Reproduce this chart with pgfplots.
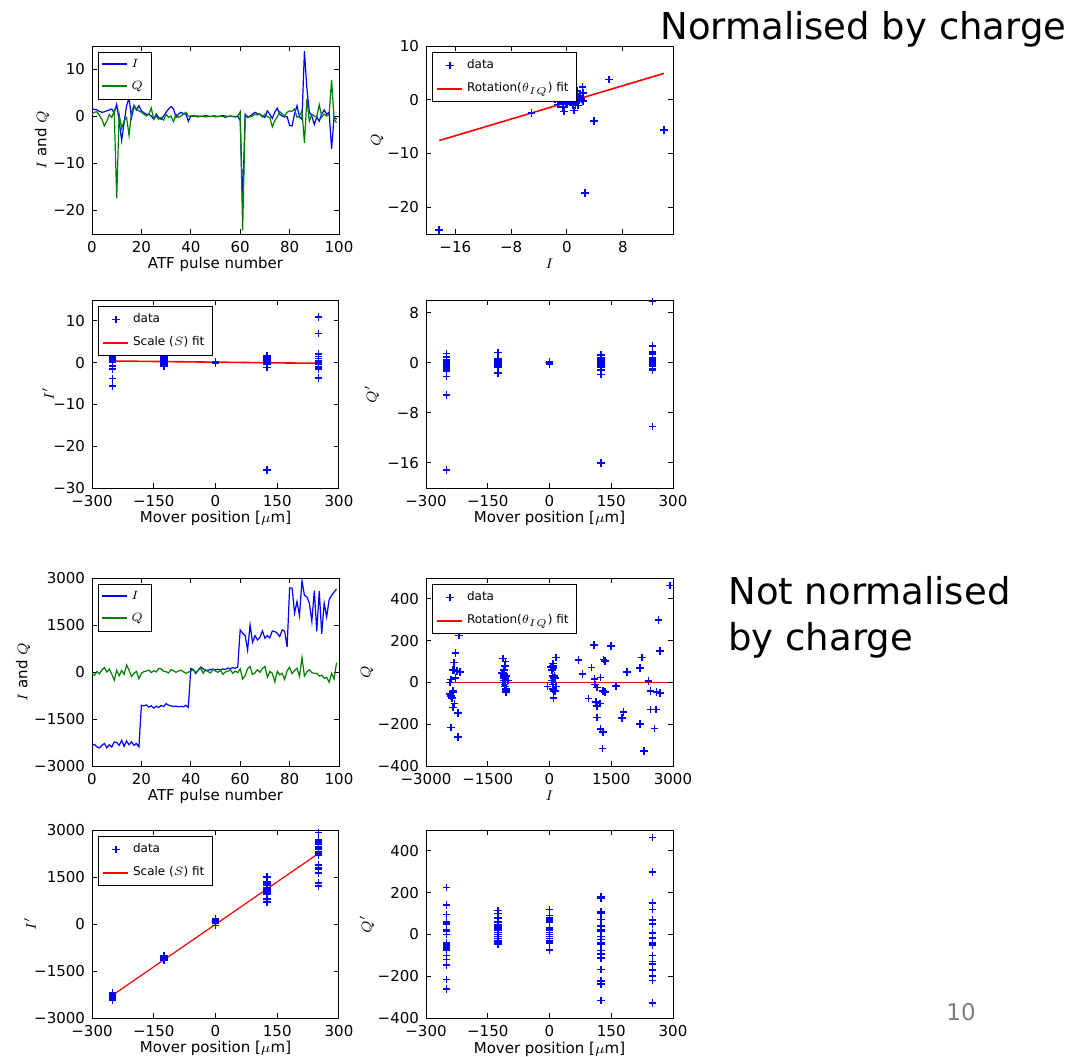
\documentclass[border=0pt]{standalone}
\usepackage{fontspec}
\setmainfont{DejaVu Sans}
\usepackage{pgfplots}
\pgfplotsset{compat=1.18}
\usepackage{pgfplotstable}

\definecolor{mplblue}{rgb}{0,0,1}
\definecolor{mplgreen}{rgb}{0,0.5,0}
\definecolor{mplred}{rgb}{1,0,0}

\newcommand{\legrule}[3]{\textcolor{#1}{\rule[#3]{12.5pt}{#2}}}

\pgfplotstableread{
n m I Q Ip Qp
0 -250 1.7 0.6 1.80 -0.05
1 -250 1.5 0.9 1.72 0.30
2 -250 1.4 1.0 1.66 0.43
3 -250 1.1 0.2 1.10 -0.20
4 -250 0.9 -0.6 0.63 -0.88
5 -250 1.0 -2.0 0.21 -2.22
6 -250 1.2 -1.0 0.76 -1.36
7 -250 1.4 0.4 1.44 -0.13
8 -250 1.6 -0.2 1.42 -0.76
9 -250 0.8 1.2 1.18 0.83
10 -250 2.6 -17.4 -3.81 -17.15
11 -250 -1.0 0.5 -0.75 0.83
12 -250 -5.1 -2.5 -5.65 -0.50
13 -250 -1.3 -0.9 -1.53 -0.37
14 -250 2.3 -0.2 2.07 -1.01
15 -250 3.9 -4.0 2.20 -5.13
16 -250 -0.2 0.9 0.13 0.91
17 -250 2.2 2.4 2.91 1.45
18 -250 1.4 1.6 1.87 0.99
19 -250 2.3 1.2 2.57 0.30
20 -125 1.2 0.9 1.44 0.41
21 -125 0.8 0.5 0.93 0.18
22 -125 0.5 0.1 0.51 -0.09
23 -125 0.5 0.5 0.65 0.29
24 -125 0.1 1.8 0.73 1.64
25 -125 -0.6 -0.6 -0.77 -0.35
26 -125 0.5 0.1 0.51 -0.09
27 -125 -0.2 -0.6 -0.40 -0.49
28 -125 -0.6 -0.2 -0.63 0.02
29 -125 0.1 -0.8 -0.20 -0.79
30 -125 0.9 0.5 1.02 0.15
31 -125 1.6 -0.2 1.42 -0.76
32 -125 2.1 0.1 2.00 -0.66
33 -125 1.6 -1.1 1.10 -1.60
34 -125 -0.2 0.5 -0.01 0.54
35 -125 0.5 -0.2 0.40 -0.37
36 -125 0.9 0.1 0.88 -0.23
37 -125 0.6 0.5 0.74 0.26
38 -125 0.5 0.9 0.79 0.66
39 -125 -1.0 0.1 -0.89 0.45
40 0 0.1 0.0 0.09 -0.04
41 0 0.2 0.1 0.22 0.02
42 0 0.1 0.0 0.09 -0.04
43 0 0.1 -0.1 0.06 -0.13
44 0 0.0 0.1 0.04 0.09
45 0 0.1 0.0 0.09 -0.04
46 0 0.2 -0.1 0.15 -0.16
47 0 0.1 0.0 0.09 -0.04
48 0 0.0 0.0 0.00 0.00
49 0 0.1 0.1 0.13 0.06
50 0 0.1 -0.1 0.06 -0.13
51 0 0.0 0.0 0.00 0.00
52 0 0.1 0.1 0.13 0.06
53 0 0.2 0.0 0.19 -0.07
54 0 0.1 -0.2 0.02 -0.22
55 0 0.0 0.0 0.00 0.00
56 0 0.1 0.1 0.13 0.06
57 0 0.0 0.0 0.00 0.00
58 0 -0.1 0.0 -0.09 0.04
59 0 0.1 0.1 0.13 0.06
60 125 -0.9 1.0 -0.48 1.25
61 125 -18.3 -24.2 -25.72 -16.00
62 125 0.5 -0.2 0.40 -0.37
63 125 -0.2 0.1 -0.15 0.16
64 125 0.1 -0.1 0.05 -0.13
65 125 0.5 0.1 0.51 -0.09
66 125 0.9 0.5 1.02 0.15
67 125 0.6 0.3 0.67 0.07
68 125 0.5 0.5 0.65 0.29
69 125 0.1 -0.1 0.05 -0.13
70 125 -0.2 0.5 -0.01 0.54
71 125 1.2 0.0 1.12 -0.43
72 125 0.5 -0.2 0.40 -0.37
73 125 -0.4 -2.2 -1.16 -1.91
74 125 0.9 -0.9 0.52 -1.16
75 125 1.8 -0.1 1.64 -0.73
76 125 0.5 1.0 0.83 0.75
77 125 0.1 0.6 0.30 0.52
78 125 -0.1 0.1 -0.05 0.13
79 125 0.0 0.9 0.32 0.84
80 250 -1.9 1.2 -1.34 1.80
81 250 -2.0 1.1 -1.47 1.75
82 250 0.5 1.6 1.04 1.31
83 250 2.3 -0.2 2.07 -1.01
84 250 -0.1 0.1 -0.05 0.13
85 250 -0.6 1.2 -0.13 1.33
86 250 13.9 -5.6 10.95 -10.20
87 250 6.0 3.8 6.95 1.39
88 250 0.9 -1.0 0.48 -1.25
89 250 0.1 0.5 0.27 0.43
90 250 -1.7 0.1 -1.54 0.70
91 250 -0.1 -0.1 -0.13 -0.05
92 250 -1.0 2.5 -0.03 2.69
93 250 0.5 -0.1 0.43 -0.27
94 250 1.4 0.5 1.48 -0.03
95 250 0.5 0.1 0.51 -0.09
96 250 0.9 0.5 1.02 0.15
97 250 -6.9 7.8 -3.64 9.74
98 250 -0.1 -0.6 -0.30 -0.52
99 250 -0.6 -1.3 -1.03 -1.00
}\tabA

\pgfplotstableread{
n m I Q
0 -250 -2340 -40
1 -250 -2310 -100
2 -250 -2390 15
3 -250 -2420 -55
4 -250 -2340 60
5 -250 -2280 140
6 -250 -2420 0
7 -250 -2320 95
8 -250 -2390 -65
9 -250 -2230 -260
10 -250 -2250 55
11 -250 -2340 -120
12 -250 -2180 50
13 -250 -2370 -75
14 -250 -2200 225
15 -250 -2320 60
16 -250 -2230 -145
17 -250 -2340 -45
18 -250 -2280 20
19 -250 -2390 -215
20 -125 -1060 -40
21 -125 -1080 10
22 -125 -1050 30
23 -125 -1120 60
24 -125 -1080 -20
25 -125 -1150 45
26 -125 -1090 0
27 -125 -1130 115
28 -125 -1070 100
29 -125 -1100 20
30 -125 -1010 10
31 -125 -1060 -30
32 -125 -1080 80
33 -125 -1100 40
34 -125 -1090 -10
35 -125 -1110 30
36 -125 -1100 60
37 -125 -1110 10
38 -125 -1060 -45
39 -125 -1130 0
40 0 110 20
41 0 80 80
42 0 -50 -20
43 0 60 60
44 0 160 120
45 0 100 -40
46 0 40 75
47 0 60 10
48 0 80 -30
49 0 90 90
50 0 70 30
51 0 90 -10
52 0 60 60
53 0 100 -75
54 0 80 0
55 0 130 20
56 0 100 70
57 0 140 -40
58 0 120 30
59 0 160 -20
60 125 1345 104
61 125 1240 -224
62 125 1160 -112
63 125 700 107
64 125 1500 176
65 125 950 -77
66 125 1160 -24
67 125 1025 72
68 125 1110 -10
69 125 1310 109
70 125 1080 179
71 125 1160 -168
72 125 1090 16
73 125 1310 -40
74 125 1290 -317
75 125 1240 24
76 125 1130 -93
77 125 1345 -45
78 125 1300 -237
79 125 800 40
80 250 2680 150
81 250 2680 -50
82 250 1880 50
83 250 2250 120
84 250 1800 -140
85 250 2920 464
86 250 2450 -130
87 250 2400 8
88 250 2200 70
89 250 1620 -16
90 250 2600 -45
91 250 1300 -40
92 250 2580 -130
93 250 1220 -100
94 250 2200 -200
95 250 1760 -170
96 250 2300 -328
97 250 2450 -40
98 250 2550 -220
99 250 2650 300
}\tabB

\pgfplotsset{
  mpl/.style={
    scale only axis, width=123.5pt, height=94pt,
    axis line style={line width=0.5pt},
    tick align=inside, xtick pos=both, ytick pos=both,
    major tick length=2.5pt,
    every tick/.style={line width=0.5pt},
    tick label style={font=\fontsize{7.5}{9}\selectfont},
    label style={font=\fontsize{7.5}{9}\selectfont},
    legend style={font=\fontsize{6}{7}\selectfont, draw=black, line width=0.5pt,
      at={(0.024,0.968)}, anchor=north west, inner xsep=2pt, inner ysep=1.5pt, row sep=1.5pt},
    legend cell align=left,
    xlabel style={at={(axis description cs:0.5,-0.186)}, anchor=base},
  },
  blueline/.style={color=mplblue, line width=0.6pt,
    legend image code/.code={\node[inner sep=0pt, anchor=west] at (0pt,0pt) {\legrule{mplblue}{0.7pt}{-0.35pt}};}},
  greenline/.style={color=mplgreen, line width=0.6pt,
    legend image code/.code={\node[inner sep=0pt, anchor=west] at (0pt,0pt) {\legrule{mplgreen}{0.7pt}{-0.35pt}};}},
  redline/.style={color=mplred, line width=#1,
    legend image code/.code={\draw[color=mplred, line width=0.8pt] (0pt,0pt) -- (12.5pt,0pt);}},
  dots/.style={only marks, mark=+, color=mplblue, mark size=1.9pt,
    mark options={draw=mplblue, line width=0.8pt},
    legend image code/.code={\draw[draw=mplblue, line width=0.8pt] (4.35pt,0pt) -- (8.15pt,0pt) (6.25pt,-1.9pt) -- (6.25pt,1.9pt);}},
  moverx/.style={xmin=-300, xmax=300, xtick={-300,-150,0,150,300},
    xticklabels={−300,−150,0,150,300}, xlabel={Mover position [$\mu$m]}},
  pulsex/.style={xmin=0, xmax=100, xtick={0,20,40,60,80,100},
    xticklabels={0,20,40,60,80,100}, xlabel={ATF pulse number}},
}

\begin{document}
\begin{tikzpicture}
\path[use as bounding box] (0,0) rectangle (545pt,-528pt);

% Row 1 left
\begin{axis}[mpl, pulsex, at={(46pt,-23pt)}, anchor=north west,
  ymin=-25, ymax=15, ytick={-20,-10,0,10}, yticklabels={−20,−10,0,10},
  ylabel={$I$ and $Q$}, ylabel style={at={(axis description cs:-0.202,0.5)}, anchor=center}]
\addplot[blueline] table[x=n, y=I] {\tabA};
\addlegendentry{$I$}
\addplot[greenline] table[x=n, y=Q] {\tabA};
\addlegendentry{$Q$}
\end{axis}

% Row 1 right
\begin{axis}[mpl, at={(213pt,-23pt)}, anchor=north west,
  xmin=-20.2, xmax=15.2, xtick={-16,-8,0,8}, xticklabels={−16,−8,0,8},
  ymin=-25, ymax=10, ytick={-20,-10,0,10}, yticklabels={−20,−10,0,10},
  xlabel={$I$}, ylabel={$Q$}, ylabel style={at={(axis description cs:-0.198,0.5)}, anchor=center}]
\addplot[dots] table[x=I, y=Q] {\tabA};
\addlegendentry{data}
\addplot[redline=0.8pt] coordinates {(-18.3,-7.6) (13.9,4.9)};
\addlegendentry{Rotation($\theta_{IQ}$) fit}
\end{axis}

% Row 2 left
\begin{axis}[mpl, moverx, at={(46pt,-150pt)}, anchor=north west,
  ymin=-30, ymax=15, ytick={-30,-20,-10,0,10}, yticklabels={−30,−20,−10,0,10},
  ylabel={$I'$}, ylabel style={at={(axis description cs:-0.178,0.5)}, anchor=center}]
\addplot[dots] table[x=m, y=Ip] {\tabA};
\addlegendentry{data}
\addplot[redline=0.8pt] coordinates {(-250,0.4) (250,-0.15)};
\addlegendentry{Scale ($S$) fit}
\end{axis}

% Row 2 right
\begin{axis}[mpl, moverx, at={(213pt,-150pt)}, anchor=north west,
  ymin=-20, ymax=10, ytick={-16,-8,0,8}, yticklabels={−16,−8,0,8},
  ylabel={$Q'$}, ylabel style={at={(axis description cs:-0.219,0.5)}, anchor=center}]
\addplot[dots] table[x=m, y=Qp] {\tabA};
\end{axis}

% Row 3 left
\begin{axis}[mpl, pulsex, at={(46pt,-289pt)}, anchor=north west,
  ymin=-3000, ymax=3000, ytick={-3000,-1500,0,1500,3000}, yticklabels={−3000,−1500,0,1500,3000},
  ylabel={$I$ and $Q$}, ylabel style={at={(axis description cs:-0.279,0.5)}, anchor=center}]
\addplot[blueline] table[x=n, y=I] {\tabB};
\addlegendentry{$I$}
\addplot[greenline] table[x=n, y=Q] {\tabB};
\addlegendentry{$Q$}
\end{axis}

% Row 3 right
\begin{axis}[mpl, at={(213pt,-289pt)}, anchor=north west,
  xmin=-3000, xmax=3000, xtick={-3000,-1500,0,1500,3000}, xticklabels={−3000,−1500,0,1500,3000},
  ymin=-400, ymax=500, ytick={-400,-200,0,200,400}, yticklabels={−400,−200,0,200,400},
  xlabel={$I$}, ylabel={$Q$}, ylabel style={at={(axis description cs:-0.239,0.5)}, anchor=center}]
\addplot[dots] table[x=I, y=Q] {\tabB};
\addlegendentry{data}
\addplot[redline=0.8pt] coordinates {(-2440,0) (2880,0)};
\addlegendentry{Rotation($\theta_{IQ}$) fit}
\end{axis}

% Row 4 left
\begin{axis}[mpl, moverx, at={(46pt,-415pt)}, anchor=north west,
  ymin=-3000, ymax=3000, ytick={-3000,-1500,0,1500,3000}, yticklabels={−3000,−1500,0,1500,3000},
  ylabel={$I'$}, ylabel style={at={(axis description cs:-0.251,0.5)}, anchor=center}]
\addplot[dots] table[x=m, y=I] {\tabB};
\addlegendentry{data}
\addplot[redline=0.6pt] coordinates {(-250,-2270) (250,2250)};
\addlegendentry{Scale ($S$) fit}
\end{axis}

% Row 4 right
\begin{axis}[mpl, moverx, at={(213pt,-415pt)}, anchor=north west,
  ymin=-400, ymax=500, ytick={-400,-200,0,200,400}, yticklabels={−400,−200,0,200,400},
  ylabel={$Q'$}, ylabel style={at={(axis description cs:-0.239,0.5)}, anchor=center}]
\addplot[dots] table[x=m, y=Q] {\tabB};
\end{axis}

\node[anchor=base west, inner sep=0, font=\fontsize{18.5}{22}\selectfont] at (330pt,-19.5pt) {Normalised by charge};
\node[anchor=base west, inner sep=0, font=\fontsize{18.5}{22}\selectfont] at (364pt,-302pt) {Not normalised};
\node[anchor=base west, inner sep=0, font=\fontsize{18.5}{22}\selectfont] at (364pt,-325pt) {by charge};
\node[anchor=base west, inner sep=0, text=black!50, font=\fontsize{11.5}{14}\selectfont] at (473pt,-510pt) {10};
\end{tikzpicture}
\end{document}
